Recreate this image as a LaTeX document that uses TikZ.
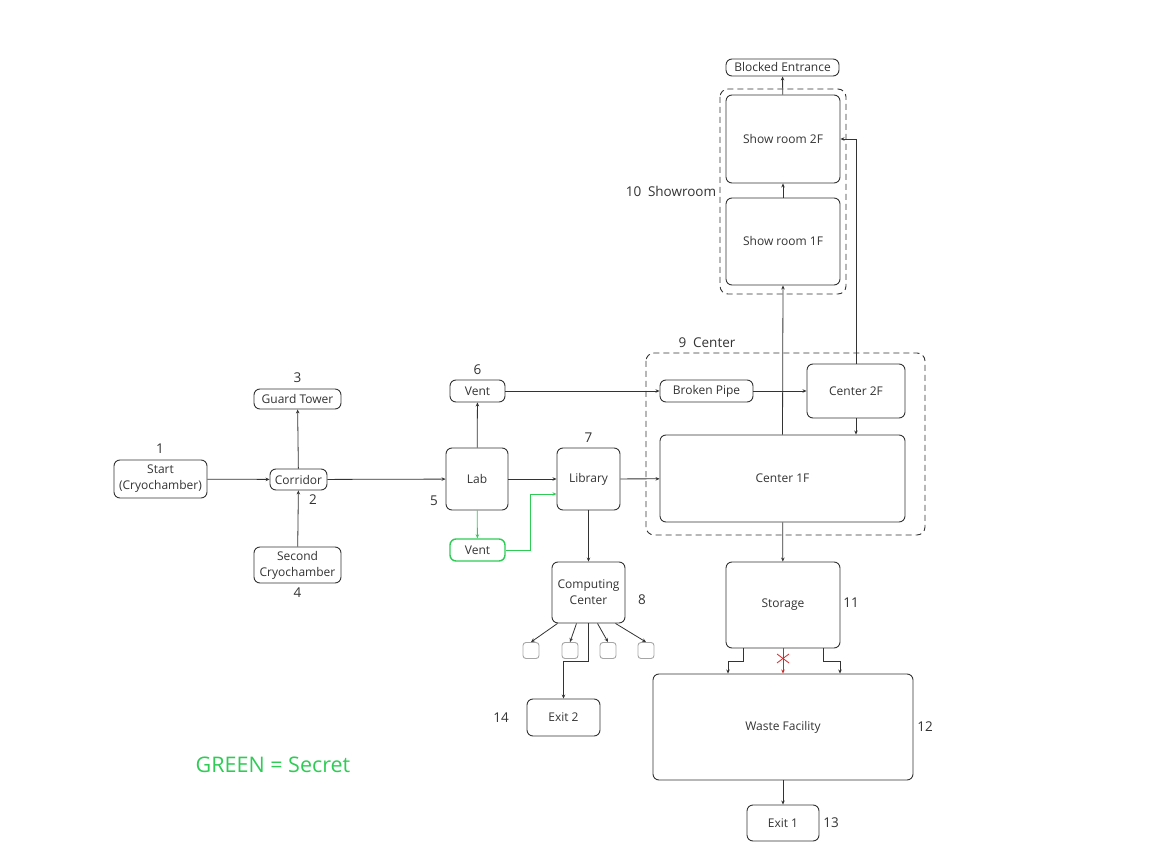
\documentclass[tikz,border=0pt]{standalone}
\usepackage{fontspec}
\setmainfont{Open Sans}
\usepackage{tikz}
\usetikzlibrary{calc,arrows.meta}
\definecolor{ink}{HTML}{333333}
\definecolor{secret}{HTML}{2ECC55}
\definecolor{blocked}{HTML}{D62728}
\tikzset{
	room/.style={draw=ink, line width=0.9pt, rounded corners=6pt, align=center, inner sep=0pt, font=\fontsize{12}{16}\selectfont, text=ink},
	tiny/.style={draw=black!35, line width=0.9pt, rounded corners=3pt, minimum width=16pt, minimum height=16pt, inner sep=0pt},
	lbl/.style={font=\fontsize{13.5}{16}\selectfont, text=ink},
	link/.style={draw=ink, line width=0.8pt, -{Stealth[length=4pt,width=3.5pt]}},
	zone/.style={draw=ink, line width=0.9pt, dash pattern=on 6pt off 4pt, rounded corners=8pt}
}
\def\room(#1)[#2:#3](#4)#5{\node[room, minimum width=#2pt, minimum height=#3pt] (#1) at (#4) {#5};}

\begin{document}
\begin{tikzpicture}[x=1pt,y=-1pt]
			%%%%% START %%%%%
			\useasboundingbox (0,0) rectangle (1154,866);
			
			\room(start)[93:38](160.5,479){Start\\(Cryochamber)}
			\room(corr)[57:21](298.5,479.5){Corridor}
			\room(guard)[87:20](297.5,399){Guard Tower}
			\room(cryo)[87:36](297.5,565){Second\\Cryochamber}
			\room(lab)[62:62](477,479){Lab}
			\room(vent)[55:22](477.5,391){Vent}
			\node[room, draw=secret, line width=1.4pt, minimum width=55pt, minimum height=22pt] (svent) at (477.5,550) {Vent};
			\room(lib)[63:62](588.5,479){Library}
			\room(comp)[73:61](588.5,592.5){Computing\\Center}
			\room(exitb)[73:37](563.5,717.5){Exit 2}
			
			\node[tiny] (b1) at (531,650.5) {};
			\node[tiny] (b2) at (570,650.5) {};
			\node[tiny] (b3) at (608,650.5) {};
			\node[tiny] (b4) at (646,650.5) {};
			
			\room(pipe)[93:22](706.5,391){Broken Pipe}
			\room(ctwo)[98:54](856,391){Center 2F}
			\room(cone)[245:87](782.5,478.5){Center 1F}
			\room(srone)[114:87](783,241.5){Show room 1F}
			\room(srtwo)[114:88](783,139){Show room 2F}
			\room(block)[113:17](782.5,67.5){Blocked Entrance}
			\room(store)[114:86](783,605){Storage}
			\room(waste)[260:106](783,727){Waste Facility}
			\room(exita)[72:36](783,823){Exit 1}
			
			\draw[zone] (646,353) rectangle (925,535);
			\draw[zone] (720,89) rectangle (846,294);
			
			\node[lbl] (n1) at (160,449) {1};
			\node[lbl] (n2) at (313,500) {2};
			\node[lbl] (n3) at (297.5,378) {3};
			\node[lbl] (n4) at (297.5,593) {4};
			\node[lbl] (n5) at (434,501) {5};
			\node[lbl] (n6) at (477.5,370) {6};
			\node[lbl] (n7) at (588.5,438) {7};
			\node[lbl] (n8) at (642,600) {8};
			\node[lbl] (n9) at (707,343) {9\enspace Center};
			\node[lbl] (n10) at (671,191) {10\enspace Showroom};
			\node[lbl] (n11) at (851,603) {11};
			\node[lbl] (n12) at (925,727) {12};
			\node[lbl] (n13) at (831,823) {13};
			\node[lbl] (n14) at (501,718) {14};
			
			\node[text=secret, font=\fontsize{21.5}{24}\selectfont] (key) at (273,765) {GREEN = Secret};
			
			\draw[link] (start) -- (corr);
			\draw[link] (cryo) -- (corr);
			\draw[link] (corr) -- (guard);
			\draw[link] (corr) -- (lab);
			\draw[link] (lab) -- (vent);
			\draw[link] (lab) -- (lib);
			\draw[link, draw=secret] (lab) -- (svent);
			\draw[link, draw=secret] (svent.east) -- ++(25,0) |- ($(lib.west)+(0,15)$);
			\draw[link] (lib) -- (cone);
			\draw[link] (lib) -- (comp);
			
			\draw[link] ([xshift=-31pt]comp.south) -- (b1.north);
			\draw[link] ([xshift=-12pt]comp.south) -- (b2.north);
			\draw[link] ([xshift=9pt]comp.south) -- (b3.north);
			\draw[link] ([xshift=27pt]comp.south) -- (b4.north);
			\draw[link] (comp.south) -- ++(0,38) -| (exitb.north);
			
			\draw[link] (vent) -- (pipe);
			\draw[link] (pipe) -- (ctwo);
			\draw[link] (ctwo.south) -- (ctwo.south |- cone.north);
			\draw[link] (cone.north) -- (srone.south);
			\draw[link] (ctwo.north) |- (srtwo.east);
			\draw[link] (srone) -- (srtwo);
			\draw[link] (srtwo) -- (block);
			
			\draw[link] (cone) -- (store);
			\draw[link] ([xshift=-40pt]store.south) -- ++(0,13) -| ([xshift=-55pt]waste.north);
			\draw[link] ([xshift=40pt]store.south) -- ++(0,13) -| ([xshift=57pt]waste.north);
			\draw[link, draw=blocked] (store) -- (waste);
			\coordinate (cut) at ($(store.south)!0.4!(waste.north)$);
			\draw[blocked, line width=0.8pt] ($(cut)+(-6,-4.5)$) -- ($(cut)+(6,4.5)$);
			\draw[blocked, line width=0.8pt] ($(cut)+(-6,4.5)$) -- ($(cut)+(6,-4.5)$);
			
			\draw[link] (waste) -- (exita);
			
			%%%%% END %%%%%
		\end{tikzpicture}
\end{document}
